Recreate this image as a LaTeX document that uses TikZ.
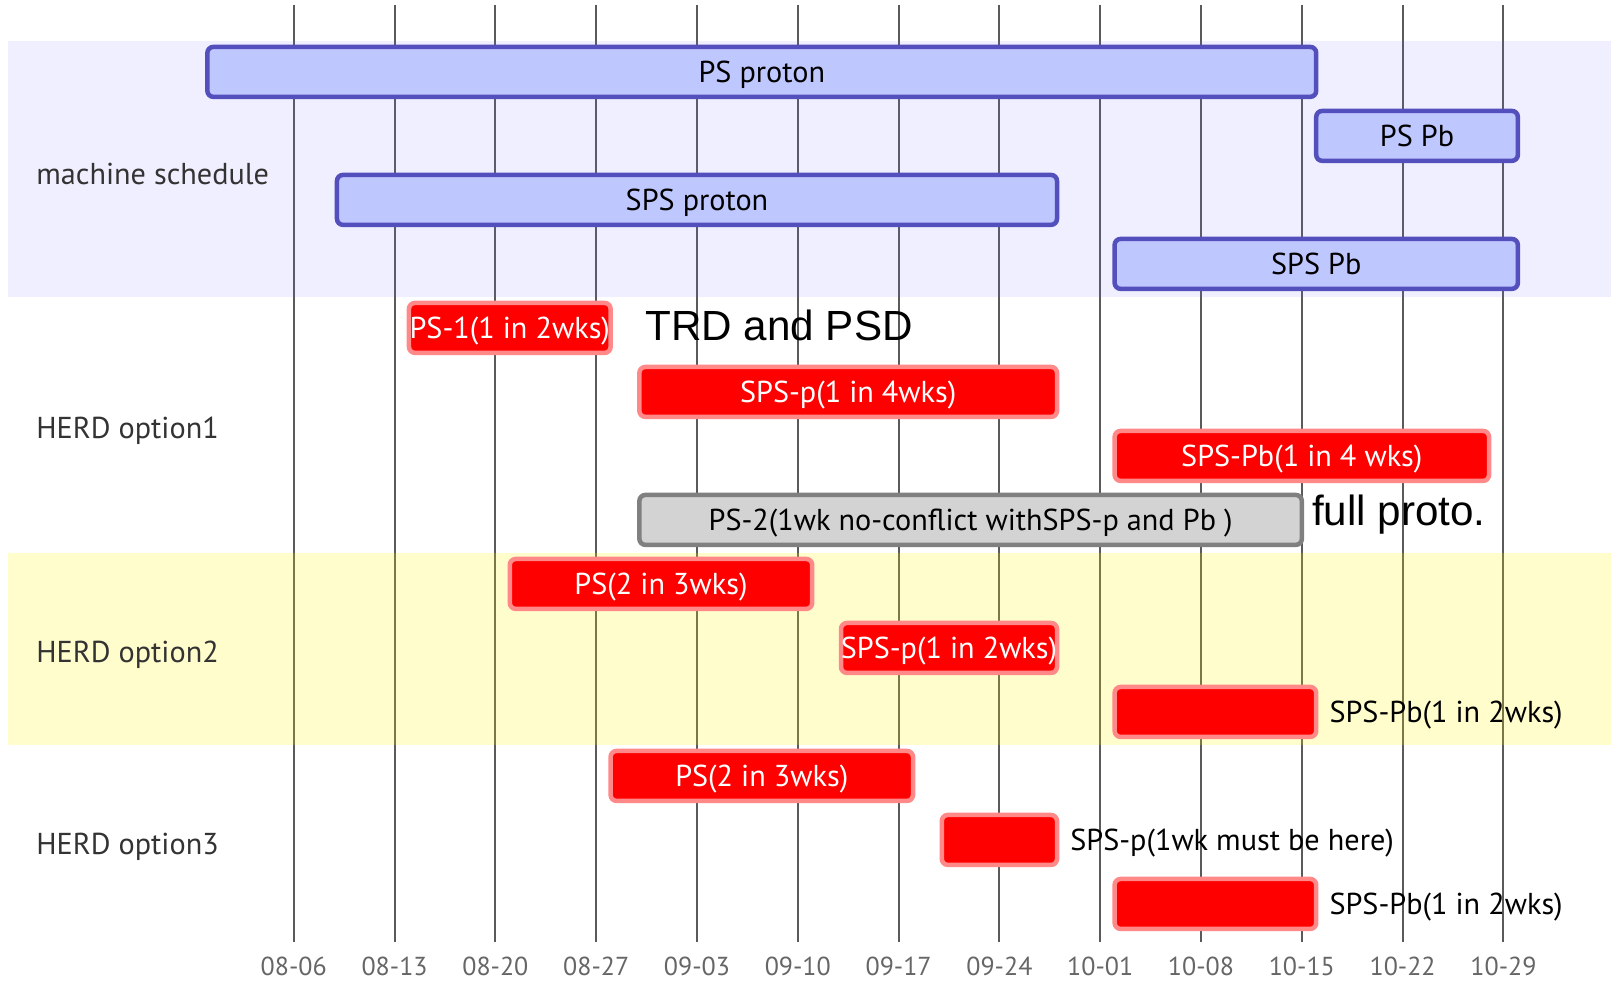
\documentclass[tikz,border=0pt]{standalone}
\usepackage{fontspec}
\setmainfont{PT Sans}
\newfontfamily\arialFont{Liberation Sans}
\usepackage{tikz}
\usepackage{xcolor}
\definecolor{activeFill}{HTML}{BFC7FF}
\definecolor{activeLine}{HTML}{534FBC}
\definecolor{critLine}{HTML}{FF8888}
\definecolor{doneFill}{HTML}{D3D3D3}
\definecolor{doneLine}{HTML}{808080}
\definecolor{gridGray}{HTML}{5A5A5A}
\definecolor{sectionBlue}{RGB}{102,102,255}
\definecolor{sectionYellow}{HTML}{FFF400}
\definecolor{labelGray}{HTML}{333333}
\definecolor{tickGray}{HTML}{666666}

\tikzset{
  bar/.style={line width=0.09cm, rounded corners=0.12cm},
  activeBar/.style={bar, draw=activeLine, fill=activeFill},
  critBar/.style={bar, draw=critLine, fill=red},
  doneBar/.style={bar, draw=doneLine, fill=doneFill},
  gridLine/.style={gridGray, line width=0.04cm},
  tickLabel/.style={text=tickGray, inner sep=1pt, font=\fontsize{14.8}{18}\selectfont},
  sectionLabel/.style={anchor=west, inner sep=0pt, text=labelGray, font=\fontsize{17.2}{20}\selectfont},
  barText/.style={anchor=base, inner sep=0pt, font=\fontsize{17.2}{20}\selectfont},
  critText/.style={barText, text=white},
  outText/.style={barText, anchor=base west},
  noteText/.style={anchor=base west, inner sep=0pt, font=\arialFont\fontsize{24}{28}\selectfont}
}

\begin{document}
\begin{tikzpicture}[x=0.288cm, y=-1.28cm]
	\useasboundingbox (-20.4,-1.123) rectangle (91.47,14.189);
	% weeks
	\foreach \w/\d in {0/08-06,1/08-13,2/08-20,3/08-27,4/09-03,5/09-10,6/09-17,7/09-24,8/10-01,9/10-08,10/10-15,11/10-22,12/10-29} {
		\draw[gridLine] (7*\w,-1.045) -- (7*\w,13.6);
		\node[tickLabel] (tick\w) at (7*\w,13.98) {\d};
	}
	\fill[sectionBlue, opacity=0.1] (-19.83,-0.48) rectangle (91.47,3.52);
	\fill[sectionYellow, opacity=0.2] (-19.83,7.52) rectangle (91.47,10.52);

	\node[sectionLabel] (machine) at (-17.9,1.6) {machine schedule};
	\node[sectionLabel] (optionOne) at (-17.9,5.6) {HERD option1};
	\node[sectionLabel] (optionTwo) at (-17.9,9.1) {HERD option2};
	\node[sectionLabel] (optionThree) at (-17.9,12.1) {HERD option3};

	% machine schedule
	\draw[activeBar] (-6,-0.39) rectangle (71,0.39);
	\node[barText] (psProton) at (32.5,0.16) {PS proton};
	\draw[activeBar] (71,0.61) rectangle (85,1.39);
	\node[barText] (psPb) at (78,1.16) {PS Pb};
	\draw[activeBar] (3,1.61) rectangle (53,2.39);
	\node[barText] (spsProton) at (28,2.16) {SPS proton};
	\draw[activeBar] (57,2.61) rectangle (85,3.39);
	\node[barText] (spsPb) at (71,3.16) {SPS Pb};

	% option 1
	\draw[critBar] (8,3.61) rectangle (22,4.39);
	\node[critText] (psOne) at (15,4.16) {PS-1(1 in 2wks)};
	\node[noteText] (trdPsd) at (24.4,4.2) {TRD and PSD};
	\draw[critBar] (24,4.61) rectangle (53,5.39);
	\node[critText] (spsPOne) at (38.5,5.16) {SPS-p(1 in 4wks)};
	\draw[critBar] (57,5.61) rectangle (83,6.39);
	\node[critText] (spsPbOne) at (70,6.16) {SPS-Pb(1 in 4 wks)};
	\draw[doneBar] (24,6.61) rectangle (70,7.39);
	\node[barText] (psTwo) at (47,7.16) {PS-2(1wk no-conflict withSPS-p and Pb )};
	\node[noteText] (fullProto) at (70.7,7.09) {full proto.};

	% option 2
	\draw[critBar] (15,7.61) rectangle (36,8.39);
	\node[critText] (psOptTwo) at (25.5,8.16) {PS(2 in 3wks)};
	\draw[critBar] (38,8.61) rectangle (53,9.39);
	\node[critText] (spsPOptTwo) at (45.5,9.16) {SPS-p(1 in 2wks)};
	\draw[critBar] (57,9.61) rectangle (71,10.39);
	\node[outText] (spsPbOptTwo) at (71.9,10.16) {SPS-Pb(1 in 2wks)};

	% option 3
	\draw[critBar] (22,10.61) rectangle (43,11.39);
	\node[critText] (psOptThree) at (32.5,11.16) {PS(2 in 3wks)};
	\draw[critBar] (45,11.61) rectangle (53,12.39);
	\node[outText] (spsPOptThree) at (53.9,12.16) {SPS-p(1wk must be here)};
	\draw[critBar] (57,12.61) rectangle (71,13.39);
	\node[outText] (spsPbOptThree) at (71.9,13.16) {SPS-Pb(1 in 2wks)};
\end{tikzpicture}
\end{document}
